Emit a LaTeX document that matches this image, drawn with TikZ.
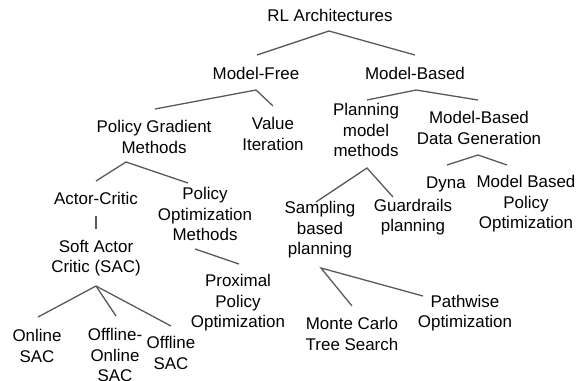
\documentclass[tikz,border=0pt]{standalone}
\usepackage{fontspec}
\setmainfont{Liberation Sans}
\usetikzlibrary{calc}

\begin{document}
\begin{tikzpicture}[x=1bp,y=-1bp,
        lbl/.style={align=center,inner sep=0pt,font=\fontsize{17}{20.5}\selectfont},
        branch/.style={draw=black!65,line width=1.3bp}]
        \useasboundingbox (0,0) rectangle (583,380);
        % nodes
        \node[lbl] (rl) at (330,15) {RL Architectures};
        \node[lbl] (mf) at (256,73) {Model-Free};
        \node[lbl] (mb) at (415,73) {Model-Based};
        \node[lbl] (pg) at (154,137) {Policy Gradient\\Methods};
        \node[lbl] (vi) at (273,134) {Value\\Iteration};
        \node[lbl] (ac) at (96,198) {Actor-Critic};
        \node[lbl] (po) at (205,214) {Policy\\Optimization\\Methods};
        \node[lbl] (sac) at (96,258) {Soft Actor\\Critic (SAC)};
        \node[lbl] (ppo) at (238,303) {Proximal\\Policy\\Optimization};
        \node[lbl] (on) at (37,346) {Online\\SAC};
        \node[lbl] (oo) at (115,355) {Offline-\\Online\\SAC};
        \node[lbl] (off) at (171,353) {Offline\\SAC};
        \node[lbl] (pmm) at (366,130) {Planning\\model\\methods};
        \node[lbl] (mbdg) at (479,128) {Model-Based\\Data Generation};
        \node[lbl] (dyna) at (446,184) {Dyna};
        \node[lbl] (mbpo) at (526,204) {Model Based\\Policy\\Optimization};
        \node[lbl] (sbp) at (320,230) {Sampling\\based\\planning};
        \node[lbl] (gp) at (413,217) {Guardrails\\planning};
        \node[lbl] (mcts) at (352,334) {Monte Carlo\\Tree Search};
        \node[lbl] (pw) at (465,313) {Pathwise\\Optimization};
        % branches
        \draw[branch] ($(mf)+(1,-18)$) -- ($(rl)+(-1,16)$) -- ($(mb)+(0,-18)$);
        \draw[branch] ($(pg)+(1,-28)$) -- ($(mf)+(0,17)$) -- ($(vi)+(0,-28)$);
        \draw[branch] ($(pmm)+(1,-30)$) -- ($(mb)+(1,17)$) -- ($(mbdg)+(-1,-28)$);
        \draw[branch] ($(ac)+(0,-17)$) -- ($(pg)+(-28,25)$) -- ($(po)+(-17,-31)$);
        \draw[branch] ($(ac)+(0,18)$) -- ($(sac)+(0,-29)$);
        \foreach \c/\dx/\dy in {on/1/-29,oo/1/-39,off/0/-27} {
            \draw[branch] ($(sac)+(0,28)$) -- ($(\c)+(\dx,\dy)$);
        }
        \draw[branch] ($(po)+(-10,35)$) -- ($(ppo)+(1,-39)$);
        \draw[branch] ($(sbp)+(-4,-28)$) -- ($(pmm)+(1,38)$) -- ($(gp)+(-20,-20)$);
        \draw[branch] ($(dyna)+(1,-19)$) -- ($(mbdg)+(-1,27)$) -- ($(mbpo)+(-19,-39)$);
        \draw[branch] ($(mcts)+(0,-28)$) -- ($(sbp)+(1,38)$) -- ($(pw)+(-42,-17)$);
\end{tikzpicture}
\end{document}
